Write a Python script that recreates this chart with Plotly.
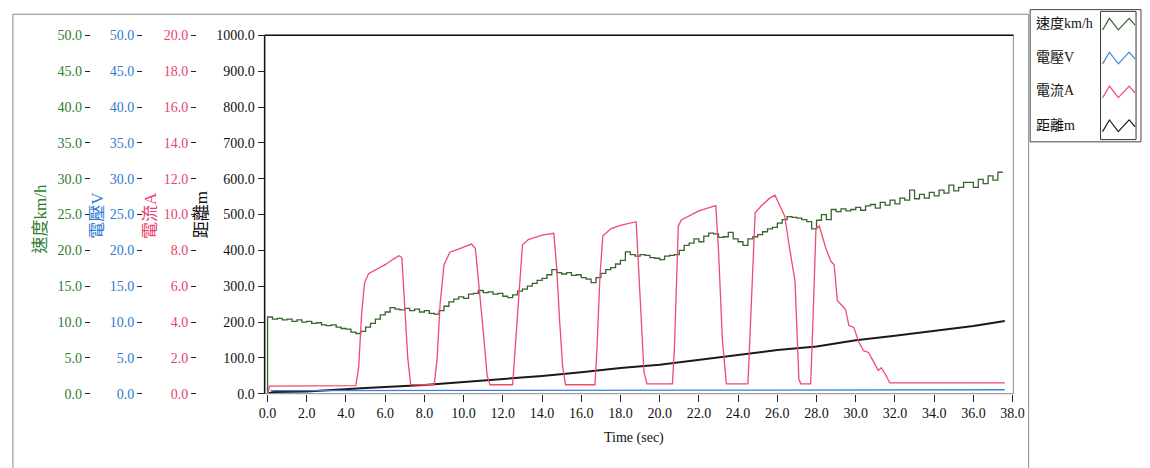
import plotly.graph_objects as go

W, H = 1150, 468


def px(x):
    return x / W


def py(y):
    return 1 - y / H


# ---------------- data ----------------
# speed km/h, sampled every 0.25 s starting at t = 0
speed_step = 0.25
speed_kmh = [0.0,
             10.7, 10.4, 10.5, 10.3, 10.4, 10.1, 10.3, 10.0,
             10.1, 9.8, 9.9, 9.6, 9.5, 9.6, 9.3, 9.1,
             9.0, 8.6, 8.4, 8.7, 9.3, 9.8, 10.4, 11.0,
             11.4, 12.0, 11.8, 11.7, 11.9, 11.6, 11.8, 11.4,
             11.6, 11.2, 11.1, 11.6, 12.2, 12.8, 13.2, 13.5,
             13.3, 13.9, 14.0, 14.4, 14.1, 14.2, 13.9, 14.0,
             13.6, 13.4, 13.8, 14.3, 14.6, 15.0, 15.4, 15.8,
             16.1, 16.6, 17.3, 16.9, 16.7, 16.9, 16.5, 16.6,
             16.2, 16.0, 15.5, 16.2, 16.8, 17.3, 17.6, 18.1,
             18.6, 19.8, 19.4, 19.2, 19.4, 19.3, 19.0, 18.9,
             18.7, 19.2, 19.3, 19.4, 20.0, 20.7, 21.0, 21.6,
             21.2, 22.0, 22.4, 22.3, 21.8, 21.9, 22.5, 21.6,
             21.2, 20.7, 21.6, 21.9, 22.2, 22.6, 23.0, 23.2,
             23.8, 24.3, 24.7, 24.6, 24.5, 24.3, 24.0, 23.0,
             24.2, 25.0, 24.3, 25.7, 25.4, 25.8, 25.5, 25.7,
             26.0, 25.6, 26.2, 26.4, 25.9, 26.7, 26.3, 27.0,
             26.5, 27.3, 27.0, 28.4, 27.2, 27.8, 27.3, 28.1,
             27.6, 28.4, 28.0, 29.1, 28.3, 28.8, 29.5, 29.5,
             28.8, 29.9, 29.3, 30.4, 29.8, 30.9]
speed_time = [i * speed_step for i in range(len(speed_kmh))]

# voltage V
volt_time = [0.15, 18.0, 37.6]
volt_v = [0.42, 0.48, 0.55]

# current A
curr_time = [0.0, 0.1, 4.5, 4.65, 4.8, 4.95, 5.15, 5.5, 6.0, 6.4, 6.7, 6.85, 7.0, 7.15, 7.3,
             8.5, 8.65, 8.8, 9.0, 9.3, 9.8, 10.4, 10.6, 10.8, 11.0, 11.2, 11.35,
             12.5, 12.6, 12.8, 13.0, 13.3, 14.0, 14.6, 14.75, 14.9, 15.05, 15.2,
             16.7, 16.8, 16.95, 17.1, 17.5, 18.0, 18.8, 18.9, 19.05, 19.2, 19.35,
             20.65, 20.75, 20.85, 20.95, 21.1, 22.0, 22.86, 23.0, 23.2, 23.4,
             24.5, 24.6, 24.75, 24.87, 25.2, 25.6, 25.88, 26.1, 26.38, 26.6, 26.9, 27.0, 27.1, 27.2,
             27.7, 27.8, 27.97, 28.14, 28.48, 28.73, 28.9, 29.06, 29.3, 29.48, 29.65, 29.9,
             30.15, 30.4, 30.65, 30.9, 31.15, 31.3, 31.5, 31.74, 37.6]
curr_a = [0.0, 0.42, 0.45, 1.5, 4.5, 6.2, 6.7, 6.9, 7.2, 7.5, 7.7, 7.6, 5.0, 2.0, 0.5,
          0.5, 2.0, 5.0, 7.2, 7.9, 8.1, 8.35, 8.1, 6.0, 3.5, 1.0, 0.5,
          0.5, 2.0, 5.5, 8.3, 8.6, 8.85, 8.95, 7.0, 4.0, 1.5, 0.5,
          0.5, 2.5, 6.5, 8.8, 9.2, 9.4, 9.6, 7.5, 4.0, 1.2, 0.55,
          0.55, 2.5, 6.0, 9.35, 9.7, 10.2, 10.5, 8.0, 3.0, 0.55,
          0.55, 3.0, 7.5, 10.1, 10.5, 10.9, 11.08, 10.6, 9.9, 8.3, 6.3, 3.6, 0.8, 0.55,
          0.55, 3.5, 9.2, 9.36, 8.1, 7.4, 7.2, 5.2, 4.9, 4.7, 3.8, 3.7,
          2.9, 2.4, 2.3, 1.8, 1.3, 1.45, 1.1, 0.6, 0.6]

# distance m
dist_time = [0.0, 0.3, 2.0, 3.4, 5.0, 8.0, 10.0, 12.0, 14.0, 16.0, 18.0, 20.0,
             22.0, 24.0, 26.0, 28.0, 30.0, 32.0, 34.0, 36.0, 37.6]
dist_m = [0.0, 5.0, 6.0, 11.0, 16.0, 24.0, 32.0, 40.5, 49.5, 60.0, 72.0, 81.0,
          95.0, 108.0, 122.0, 132.0, 149.0, 162.0, 176.0, 189.0, 203.0]

x_ticks = [0, 2, 4, 6, 8, 10, 12, 14, 16, 18, 20, 22, 24, 26, 28, 30, 32, 34, 36, 38]

names = ["速度km/h", "電壓V", "電流A", "距離m"]
GREEN, GREEN_LINE = "#2e7d32", "#37642f"
BLUE = "#2f7bd1"
PINK = "#e8436e"
BLACK = "#111111"
colors = [GREEN, BLUE, PINK, BLACK]
line_colors = [GREEN_LINE, "#3b82d6", "#ee4a72", "#1a1a1a"]

SERIF = "Liberation Serif, Noto Sans CJK TC, serif"

fig = go.Figure()
fig.add_trace(go.Scatter(x=dist_time, y=dist_m, mode="lines", name=names[3],
                         line=dict(color=line_colors[3], width=2), yaxis="y", showlegend=False))
fig.add_trace(go.Scatter(x=volt_time, y=volt_v, mode="lines", name=names[1],
                         line=dict(color=line_colors[1], width=1.3), yaxis="y2", showlegend=False))
fig.add_trace(go.Scatter(x=speed_time, y=speed_kmh, mode="lines", name=names[0],
                         line=dict(color=line_colors[0], width=1.3, shape="vh"), yaxis="y3",
                         showlegend=False))
fig.add_trace(go.Scatter(x=curr_time, y=curr_a, mode="lines", name=names[2],
                         line=dict(color=line_colors[2], width=1.3), yaxis="y4", showlegend=False))

ydom = [py(399.5), py(29.3)]
tickfont = lambda c: dict(family=SERIF, size=14, color=c)

common_y = dict(domain=ydom, showgrid=False, zeroline=False, ticks="outside",
                tickcolor="#222", tickwidth=1.2, tickformat=".1f", fixedrange=True)

fig.update_layout(
    width=W, height=H, autosize=False,
    margin=dict(l=0, r=0, t=0, b=0),
    paper_bgcolor="white", plot_bgcolor="white",
    showlegend=False,
    xaxis=dict(domain=[px(262.5), px(1022.5)], range=[-0.15, 38.04],
               tickvals=x_ticks, tickformat=".1f", ticks="outside", ticklen=7,
               tickcolor="#222", tickwidth=1.2, showgrid=False, zeroline=False,
               showline=False, tickfont=tickfont(BLACK), fixedrange=True),
    yaxis=dict(range=[0, 1000], dtick=100, ticklen=6, tickfont=tickfont(BLACK),
               anchor="x", side="left", showline=False, **common_y),
    yaxis2=dict(range=[0, 50], dtick=5, ticklen=5, tickfont=tickfont(BLUE),
                anchor="free", position=px(138), overlaying="y", side="left",
                showline=False, **common_y),
    yaxis3=dict(range=[0, 50], dtick=5, ticklen=5, tickfont=tickfont(GREEN),
                anchor="free", position=px(85), overlaying="y", side="left",
                showline=False, **common_y),
    yaxis4=dict(range=[0, 20], dtick=2, ticklen=5, tickfont=tickfont(PINK),
                anchor="free", position=px(193), overlaying="y", side="left",
                showline=False, **common_y),
)

shapes = []
# outer chart frame
shapes.append(dict(type="rect", xref="paper", yref="paper", x0=px(7), x1=px(1038),
                   y0=py(480), y1=py(7.5), line=dict(color="#8a8a8a", width=1)))
# plot frame
shapes.append(dict(type="rect", xref="paper", yref="paper", x0=px(262.5), x1=px(1022.5),
                   y0=py(399.5), y1=py(29.3), line=dict(color="#8c8c8c", width=1)))
shapes.append(dict(type="line", xref="paper", yref="paper", x0=px(262.5), x1=px(1022.5),
                   y0=py(29.3), y1=py(29.3), line=dict(color="#111", width=1.5)))
shapes.append(dict(type="line", xref="paper", yref="paper", x0=px(262.5), x1=px(262.5),
                   y0=py(399.5), y1=py(29.3), line=dict(color="#111", width=1.5)))
# legend boxes
shapes.append(dict(type="rect", xref="paper", yref="paper", x0=px(1039.5), x1=px(1152),
                   y0=py(139.3), y1=py(2.7), line=dict(color="#444", width=1)))
shapes.append(dict(type="rect", xref="paper", yref="paper", x0=px(1111), x1=px(1147),
                   y0=py(137), y1=py(4.5), line=dict(color="#333", width=1)))

annotations = []
legend_y = [16.7, 51.7, 86.7, 121.7]
for name, c, lc, ly in zip(names, colors, line_colors, legend_y):
    annotations.append(dict(text=name, xref="paper", yref="paper", x=px(1043), y=py(ly),
                            xanchor="left", yanchor="middle", showarrow=False,
                            font=dict(family=SERIF, size=14, color="#111")))
    pts = [(1113, ly + 7), (1120, ly - 5), (1129, ly + 7), (1140, ly - 5), (1146, ly + 2)]
    path = "M " + " L ".join(f"{px(a):.5f},{py(b):.5f}" for a, b in pts)
    shapes.append(dict(type="path", xref="paper", yref="paper", path=path,
                       line=dict(color=lc, width=1.2)))

# rotated axis titles
title_pos = [(36, 219), (92, 215), (146, 215), (198, 215)]
for name, c, (tx, ty) in zip(names, colors, title_pos):
    annotations.append(dict(text=name, xref="paper", yref="paper", x=px(tx), y=py(ty),
                            xanchor="center", yanchor="middle", textangle=-90,
                            showarrow=False, font=dict(family=SERIF, size=17, color=c)))

annotations.append(dict(text="Time (sec)", xref="paper", yref="paper", x=px(637), y=py(445),
                        xanchor="center", yanchor="middle", showarrow=False,
                        font=dict(family=SERIF, size=14, color="#111")))

fig.update_layout(shapes=shapes, annotations=annotations)

fig.write_html(
    "out.html",
    config={"responsive": False, "displayModeBar": False},
    default_width="1150px", default_height="468px",
    post_script="document.body.style.margin='0px';document.body.style.overflow='hidden';",
)
